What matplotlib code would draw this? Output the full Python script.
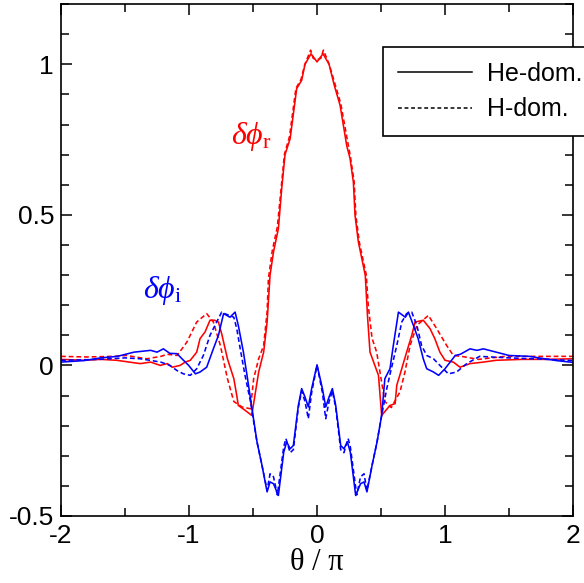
import matplotlib
matplotlib.use("Agg")
import matplotlib.pyplot as plt
from matplotlib.ticker import MultipleLocator, FuncFormatter

plt.rcParams['font.family'] = ['Liberation Sans', 'DejaVu Sans']
plt.rcParams['axes.unicode_minus'] = False
plt.rcParams['mathtext.fontset'] = 'custom'
plt.rcParams['mathtext.rm'] = 'Liberation Serif'
plt.rcParams['mathtext.it'] = 'Liberation Serif:italic'

# dphi_r, He-dominated (solid red)
xr_he = [-2.0, -1.82, -1.69, -1.565, -1.45, -1.38, -1.30, -1.225, -1.17, -1.13, -1.07,
         -1.03, -0.99, -0.94, -0.914, -0.875, -0.836, -0.80, -0.77, -0.742, -0.70,
         -0.65, -0.627, -0.615, -0.5625, -0.51, -0.456, -0.417, -0.39, -0.367, -0.34,
         -0.302, -0.276, -0.25, -0.21, -0.159, -0.12, -0.094, -0.047, 0.0, 0.047,
         0.094, 0.135, 0.18, 0.232, 0.258, 0.284, 0.297, 0.323, 0.377, 0.395, 0.414,
         0.48, 0.505, 0.57, 0.61, 0.623, 0.662, 0.70, 0.74, 0.766, 0.83, 0.883, 0.92,
         0.96, 1.0, 1.065, 1.117, 1.195, 1.3, 1.4, 1.6, 1.8, 2.0]
yr_he = [0.02, 0.017, 0.02, 0.017, 0.01, 0.006, 0.011, 0.0, 0.006, -0.006, 0.0,
         0.011, 0.017, 0.044, 0.089, 0.111, 0.15, 0.15, 0.144, 0.10, 0.022,
         -0.044, -0.10, -0.133, -0.149, -0.166, -0.022, 0.044, 0.144, 0.30, 0.377,
         0.454, 0.587, 0.70, 0.753, 0.919, 0.947, 1.0, 1.035, 1.008, 1.035,
         1.0, 0.93, 0.864, 0.73, 0.687, 0.609, 0.498, 0.41, 0.299, 0.16, 0.044,
         -0.033, -0.166, -0.133, -0.127, -0.066, -0.011, 0.044, 0.1, 0.144, 0.15, 0.122, 0.089,
         0.044, 0.017, 0.011, -0.006, 0.006, 0.011, 0.017, 0.02, 0.02, 0.022]

# dphi_r, H-dominated (dashed red)
xr_h = [-2.0, -1.8, -1.6, -1.49, -1.33, -1.22, -1.17, -1.094, -1.055, -1.016, -0.94,
        -0.862, -0.81, -0.755, -0.70, -0.65, -0.586, -0.52, -0.495, -0.456, -0.417,
        -0.39, -0.38, -0.35, -0.31, -0.28, -0.255, -0.215, -0.165, -0.125, -0.095,
        -0.05, -0.03, 0.0, 0.03, 0.05, 0.095, 0.14, 0.185, 0.262, 0.29, 0.303, 0.33,
        0.385, 0.40, 0.43, 0.466, 0.53, 0.58, 0.648, 0.687, 0.727, 0.78, 0.87, 0.935,
        1.013, 1.065, 1.13, 1.26, 1.47, 1.7, 2.0]
yr_h = [0.03, 0.028, 0.03, 0.033, 0.022, 0.03, 0.037, 0.033, 0.055, 0.078, 0.144,
        0.172, 0.144, 0.066, -0.044, -0.12, -0.138, -0.144, -0.044, 0.022, 0.066,
        0.178, 0.288, 0.38, 0.46, 0.59, 0.70, 0.76, 0.92, 0.95, 1.0,
        1.047, 1.02, 1.015, 1.02, 1.047, 1.0, 0.935, 0.87, 0.69, 0.61, 0.50, 0.41,
        0.30, 0.2, 0.09, 0.044, -0.12, -0.14, -0.088, -0.022, 0.066, 0.133, 0.166, 0.122,
        0.066, 0.033, 0.03, 0.02, 0.03, 0.03, 0.03]

# dphi_i, He-dominated (solid blue)
xi_he = [-2.0, -1.82, -1.69, -1.56, -1.43, -1.30, -1.25, -1.20, -1.15, -1.094, -1.055,
         -1.003, -0.95, -0.914, -0.862, -0.81, -0.77, -0.73, -0.68, -0.64, -0.615,
         -0.575, -0.547, -0.508, -0.469, -0.43, -0.39, -0.367, -0.34, -0.302, -0.26,
         -0.237, -0.21, -0.185, -0.146, -0.12, -0.094, -0.068, -0.042, 0.0, 0.042,
         0.068, 0.094, 0.12, 0.146, 0.185, 0.21, 0.237, 0.26, 0.302, 0.34, 0.367,
         0.39, 0.43, 0.469, 0.505, 0.53, 0.57, 0.596, 0.636, 0.69, 0.714, 0.753,
         0.79, 0.83, 0.857, 0.91, 0.95, 1.0, 1.08, 1.12, 1.195, 1.25, 1.30, 1.40,
         1.5, 1.66, 1.87, 2.0]
yi_he = [0.011, 0.016, 0.025, 0.03, 0.044, 0.05, 0.044, 0.055, 0.04, 0.039, 0.022,
         0.0, -0.028, -0.022, -0.006, 0.055, 0.1, 0.172, 0.16, 0.177, 0.133,
         0.044, -0.033, -0.144, -0.254, -0.332, -0.42, -0.387, -0.393, -0.432, -0.288,
         -0.254, -0.277, -0.266, -0.133, -0.077, -0.105, -0.138, -0.077, 0.002, -0.077,
         -0.138, -0.105, -0.077, -0.133, -0.266, -0.277, -0.254, -0.288, -0.432, -0.393, -0.387,
         -0.42, -0.332, -0.254, -0.166, -0.044, -0.011, 0.066, 0.177, 0.16, 0.177, 0.133,
         0.089, 0.022, -0.011, -0.022, -0.033, -0.011, 0.033, 0.037, 0.055, 0.05, 0.055, 0.044,
         0.033, 0.03, 0.016, 0.01]

# dphi_i, H-dominated (dashed blue)
xi_h = [-2.0, -1.7, -1.5, -1.38, -1.22, -1.15, -1.094, -1.044, -0.99, -0.94, -0.888,
        -0.836, -0.784, -0.745, -0.71, -0.65, -0.627, -0.60, -0.5625, -0.52, -0.49,
        -0.469, -0.43, -0.39, -0.367, -0.34, -0.31, -0.26, -0.243, -0.21, -0.185,
        -0.146, -0.12, -0.094, -0.068, -0.042, 0.0, 0.042, 0.068, 0.094, 0.12, 0.146,
        0.185, 0.21, 0.243, 0.26, 0.31, 0.34, 0.367, 0.39, 0.43, 0.469, 0.505, 0.545,
        0.57, 0.623, 0.662, 0.70, 0.74, 0.78, 0.817, 0.857, 0.91, 0.96, 1.026, 1.09,
        1.17, 1.27, 1.5, 1.8, 2.0]
yi_h = [0.017, 0.02, 0.025, 0.022, 0.011, 0.0, -0.017, -0.028, -0.033, -0.011, 0.033,
        0.1, 0.144, 0.177, 0.17, 0.16, 0.122, 0.055, -0.033, -0.12, -0.2,
        -0.254, -0.332, -0.415, -0.36, -0.37, -0.43, -0.27, -0.243, -0.29, -0.28,
        -0.14, -0.085, -0.12, -0.177, -0.09, 0.0, -0.09, -0.177, -0.12, -0.085, -0.14,
        -0.28, -0.29, -0.243, -0.27, -0.43, -0.37, -0.36, -0.415, -0.332, -0.254, -0.166, -0.077,
        -0.03, 0.066, 0.144, 0.172, 0.177, 0.133, 0.066, 0.033, 0.022, 0.0, -0.028, -0.022,
        0.006, 0.03, 0.025, 0.02, 0.016]

fig = plt.figure(figsize=(5.84, 5.83), dpi=100)
ax = fig.add_axes([0.1045, 0.115, 0.8767, 0.878])

lw = 1.15
dash = (0, (3, 1.8))
ax.plot(xr_he, yr_he, color='#ff0000', lw=lw)
ax.plot(xr_h, yr_h, color='#ff0000', lw=lw, linestyle=dash)
ax.plot(xi_he, yi_he, color='#0000ff', lw=lw)
ax.plot(xi_h, yi_h, color='#0000ff', lw=lw, linestyle=dash)

ax.set_xlim(-2, 2)
ax.set_ylim(-0.5, 1.2)
ax.xaxis.set_major_locator(MultipleLocator(1))
ax.xaxis.set_minor_locator(MultipleLocator(0.5))
ax.yaxis.set_major_locator(MultipleLocator(0.5))
ax.yaxis.set_minor_locator(MultipleLocator(0.1))
ax.xaxis.set_major_formatter(FuncFormatter(lambda v, p: '%g' % v))
ax.yaxis.set_major_formatter(FuncFormatter(lambda v, p: '%g' % v))
ax.tick_params(which='both', direction='in', top=True, right=True, width=1.1, labelsize=19)
ax.tick_params(which='major', length=8, pad=5)
ax.tick_params(axis='x', which='major', pad=6)
ax.tick_params(which='minor', length=5.5)
for s in ax.spines.values():
    s.set_linewidth(1.2)

ax.set_xlabel('θ / π', family='Liberation Serif', fontsize=22, labelpad=0)

ax.text(-0.51, 0.76, r'$\delta\phi_{\mathrm{r}}$', color='#ff0000', fontsize=23,
        ha='center', va='center')
ax.text(-1.21, 0.25, r'$\delta\phi_{\mathrm{i}}$', color='#0000ff', fontsize=23,
        ha='center', va='center')

h1, = ax.plot([], [], color='black', lw=1.1)
h2, = ax.plot([], [], color='black', lw=1.1, linestyle=(0, (2.5, 1.8)))
leg = ax.legend([h1, h2], ['He-dom.', 'H-dom.'], loc='upper left',
                bbox_to_anchor=(383 / 584, 1 - 47 / 583), bbox_transform=fig.transFigure,
                fontsize=18, frameon=True, fancybox=False, framealpha=1,
                edgecolor='black', handlelength=2.95, handletextpad=0.6,
                borderpad=0.6, labelspacing=0.45, borderaxespad=0)
leg.get_frame().set_linewidth(1.2)

fig.savefig('out.png', dpi=100)
